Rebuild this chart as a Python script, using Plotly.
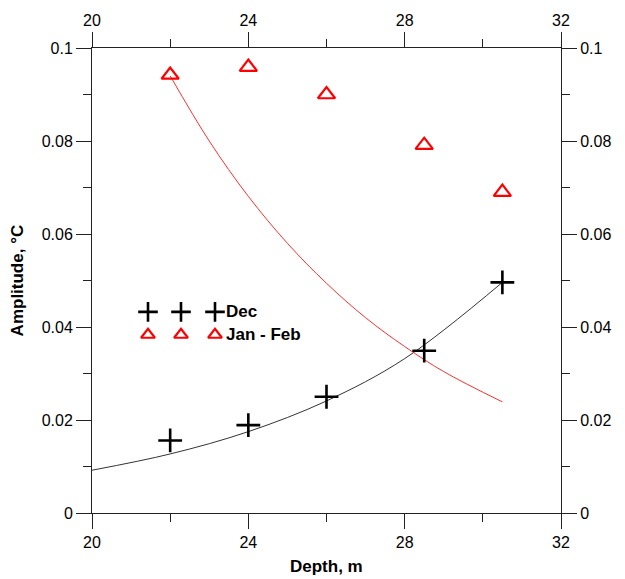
import plotly.graph_objects as go

# ---- data ----
dec_depth = [22, 24, 26, 28.5, 30.5]
dec_amp = [0.0156, 0.0189, 0.0250, 0.0349, 0.0496]

jf_depth = [22, 24, 26, 28.5, 30.5]
jf_amp = [0.0942, 0.0959, 0.0900, 0.0791, 0.0690]

# fitted curves
dec_fit_depth = [20, 22, 24, 26, 28, 30.5]
dec_fit_amp = [0.0092, 0.0127, 0.0175, 0.0241, 0.0332, 0.0496]

jf_fit_depth = [22, 23, 24, 25, 26, 27, 28, 29, 30.5]
jf_fit_amp = [0.0940, 0.0800, 0.0681, 0.0580, 0.0494, 0.0420, 0.0358, 0.0304, 0.0239]

x_range = [20, 32]
y_range = [0, 0.1]

FONT = "Arial, Liberation Sans, sans-serif"
AXIS_COLOR = "#222222"
RED = "#ff0000"

fig = go.Figure()

fig.add_trace(go.Scatter(x=dec_fit_depth, y=dec_fit_amp, mode="lines",
                         line=dict(color="#333333", width=1, shape="spline"),
                         showlegend=False, hoverinfo="skip"))
fig.add_trace(go.Scatter(x=jf_fit_depth, y=jf_fit_amp, mode="lines",
                         line=dict(color="#ff3030", width=1, shape="spline"),
                         showlegend=False, hoverinfo="skip"))
fig.add_trace(go.Scatter(x=dec_depth, y=dec_amp, mode="markers", name="Dec",
                         marker=dict(symbol="cross-thin", size=17,
                                     line=dict(color="black", width=2.6)),
                         showlegend=False))
fig.add_trace(go.Scatter(x=jf_depth, y=jf_amp, mode="markers", name="Jan - Feb",
                         marker=dict(symbol="triangle-up-open", size=15, color=RED,
                                     line=dict(color=RED, width=2.2)),
                         showlegend=False))

# invisible trace to carry the mirrored top / right axes
fig.add_trace(go.Scatter(x=x_range, y=y_range, xaxis="x2", yaxis="y2", mode="markers",
                         marker=dict(opacity=0), showlegend=False, hoverinfo="skip"))

# custom Grapher-style legend (three symbols per entry) on a pixel-like overlay axis
leg_x = [56, 89, 123]
fig.add_trace(go.Scatter(x=leg_x, y=[202] * 3, xaxis="x3", yaxis="y3", mode="markers",
                         marker=dict(symbol="cross-thin", size=14,
                                     line=dict(color="black", width=2.6)),
                         showlegend=False, hoverinfo="skip"))
fig.add_trace(go.Scatter(x=leg_x, y=[179] * 3, xaxis="x3", yaxis="y3", mode="markers",
                         marker=dict(symbol="triangle-up-open", size=12, color=RED,
                                     line=dict(color=RED, width=2.2)),
                         showlegend=False, hoverinfo="skip"))

axis_common = dict(showline=True, linecolor=AXIS_COLOR, linewidth=1, showgrid=False,
                   zeroline=False, ticks="outside", ticklen=15, tickwidth=1,
                   tickcolor=AXIS_COLOR,
                   tickfont=dict(family=FONT, size=16, color="black"))

fig.update_layout(
    width=625, height=579,
    margin=dict(l=92, r=64, t=46, b=66),
    paper_bgcolor="white", plot_bgcolor="white",
    font=dict(family=FONT, size=16, color="black"),
    xaxis=dict(range=x_range, dtick=4, tick0=20,
               minor=dict(dtick=2, ticklen=8, ticks="outside", tickcolor=AXIS_COLOR),
               **axis_common),
    yaxis=dict(range=y_range, dtick=0.02, tick0=0,
               minor=dict(dtick=0.01, ticklen=8, ticks="outside", tickcolor=AXIS_COLOR),
               **axis_common),
    xaxis2=dict(range=x_range, dtick=4, tick0=20, overlaying="x", side="top",
                minor=dict(dtick=2, ticklen=8, ticks="outside", tickcolor=AXIS_COLOR),
                **axis_common),
    yaxis2=dict(range=y_range, dtick=0.02, tick0=0, overlaying="y", side="right",
                minor=dict(dtick=0.01, ticklen=8, ticks="outside", tickcolor=AXIS_COLOR),
                **axis_common),
    xaxis3=dict(range=[0, 469], overlaying="x", visible=False),
    yaxis3=dict(range=[0, 467], overlaying="y", visible=False),
    annotations=[
        dict(text="<b>Depth, m</b>", xref="paper", yref="paper", x=0.5, y=-0.115,
             xanchor="center", yanchor="middle", showarrow=False,
             font=dict(family=FONT, size=17)),
        dict(text="<b>Amplitude, °C</b>", xref="paper", yref="paper", x=-0.158, y=0.5,
             xanchor="center", yanchor="middle", textangle=-90, showarrow=False,
             font=dict(family=FONT, size=17)),
        dict(text="<b>Dec</b>", xref="paper", yref="paper", x=(224 - 92) / 469,
             y=202 / 467, xanchor="left", yanchor="middle", showarrow=False,
             font=dict(family=FONT, size=17)),
        dict(text="<b>Jan - Feb</b>", xref="paper", yref="paper", x=(224 - 92) / 469,
             y=179 / 467, xanchor="left", yanchor="middle", showarrow=False,
             font=dict(family=FONT, size=17)),
    ],
)

fig.write_html("out.html")
